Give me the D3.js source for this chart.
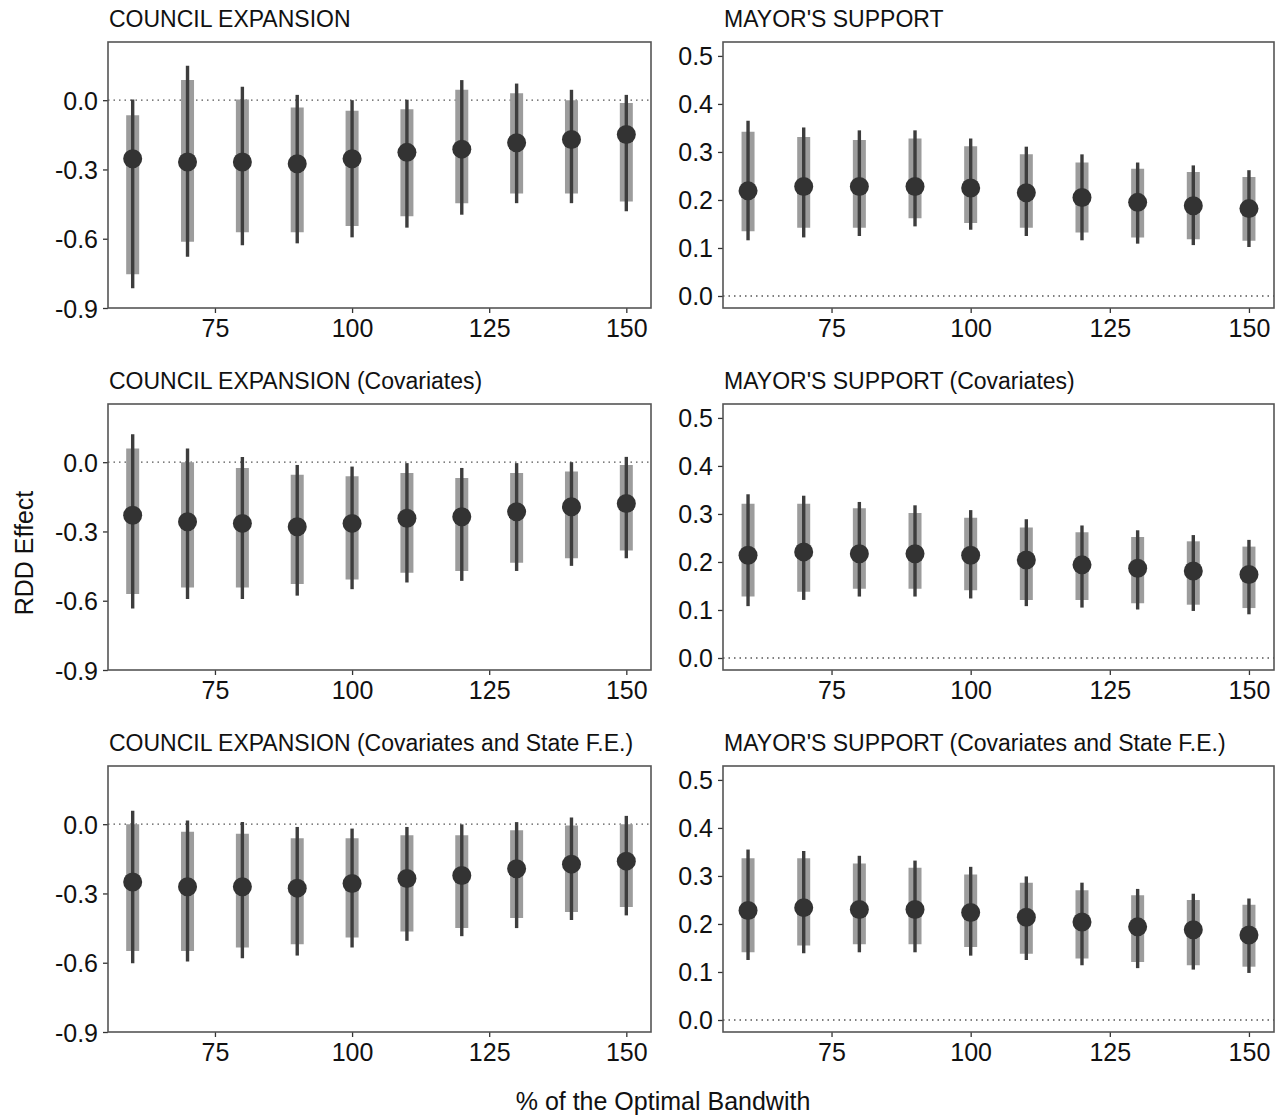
<!DOCTYPE html>
<html>
<head>
<meta charset="utf-8">
<script src="https://cdn.jsdelivr.net/npm/d3@7"></script>
<style>
  body { margin: 0; background: #fff; }
  svg text { font-family: "Liberation Sans", Arial, sans-serif; fill: #111; }
</style>
</head>
<body>
<div id="chart"></div>
<script>
// bandwidths (% of optimal)
var bandwidths = [60, 70, 80, 90, 100, 110, 120, 130, 140, 150];

var titles = [
  "COUNCIL EXPANSION", "MAYOR'S SUPPORT",
  "COUNCIL EXPANSION (Covariates)", "MAYOR'S SUPPORT (Covariates)",
  "COUNCIL EXPANSION (Covariates and State F.E.)", "MAYOR'S SUPPORT (Covariates and State F.E.)"
];

var councilTicks = [0.0, -0.3, -0.6, -0.9];
var mayorTicks = [0.0, 0.1, 0.2, 0.3, 0.4, 0.5];
var xTicks = [75, 100, 125, 150];

// council expansion
var council_est  = [-0.254, -0.268, -0.268, -0.275, -0.254, -0.226, -0.212, -0.184, -0.170, -0.149];
var council_lo95 = [-0.815, -0.678, -0.628, -0.620, -0.594, -0.552, -0.496, -0.446, -0.446, -0.481];
var council_hi95 = [0.003, 0.149, 0.058, 0.023, 0.000, 0.002, 0.087, 0.072, 0.045, 0.023];
var council_lo90 = [-0.754, -0.613, -0.572, -0.572, -0.545, -0.503, -0.446, -0.404, -0.404, -0.439];
var council_hi90 = [-0.065, 0.087, 0.003, -0.032, -0.046, -0.039, 0.045, 0.030, 0.000, -0.012];

// mayor's support
var mayor_est  = [0.219, 0.228, 0.228, 0.228, 0.225, 0.215, 0.205, 0.195, 0.188, 0.182];
var mayor_lo95 = [0.116, 0.122, 0.125, 0.145, 0.138, 0.125, 0.116, 0.109, 0.106, 0.102];
var mayor_hi95 = [0.365, 0.351, 0.345, 0.345, 0.328, 0.311, 0.295, 0.278, 0.272, 0.262];
var mayor_lo90 = [0.135, 0.142, 0.142, 0.162, 0.152, 0.142, 0.132, 0.122, 0.118, 0.115];
var mayor_hi90 = [0.342, 0.331, 0.325, 0.328, 0.312, 0.295, 0.278, 0.265, 0.258, 0.248];

// council expansion (covariates)
var councilCov_est  = [-0.230, -0.258, -0.265, -0.280, -0.265, -0.243, -0.236, -0.215, -0.193, -0.179];
var councilCov_lo95 = [-0.634, -0.593, -0.593, -0.578, -0.550, -0.521, -0.514, -0.471, -0.449, -0.416];
var councilCov_hi95 = [0.121, 0.059, 0.023, -0.012, -0.019, -0.004, -0.025, -0.004, 0.000, 0.023];
var councilCov_lo90 = [-0.571, -0.543, -0.543, -0.528, -0.508, -0.479, -0.471, -0.436, -0.416, -0.382];
var councilCov_hi90 = [0.059, 0.000, -0.025, -0.054, -0.061, -0.047, -0.069, -0.047, -0.040, -0.012];

// mayor's support (covariates)
var mayorCov_est  = [0.214, 0.221, 0.217, 0.217, 0.214, 0.204, 0.194, 0.187, 0.181, 0.174];
var mayorCov_lo95 = [0.108, 0.121, 0.128, 0.128, 0.124, 0.108, 0.105, 0.101, 0.098, 0.091];
var mayorCov_hi95 = [0.341, 0.338, 0.325, 0.318, 0.308, 0.289, 0.276, 0.266, 0.256, 0.246];
var mayorCov_lo90 = [0.128, 0.138, 0.144, 0.144, 0.141, 0.121, 0.121, 0.114, 0.111, 0.104];
var mayorCov_hi90 = [0.321, 0.321, 0.312, 0.302, 0.292, 0.272, 0.262, 0.252, 0.243, 0.232];

// council expansion (covariates and state F.E.)
var councilFE_est  = [-0.250, -0.271, -0.271, -0.277, -0.257, -0.235, -0.222, -0.193, -0.173, -0.160];
var councilFE_lo95 = [-0.602, -0.595, -0.581, -0.569, -0.534, -0.505, -0.485, -0.450, -0.415, -0.395];
var councilFE_hi95 = [0.058, 0.016, 0.009, -0.012, -0.019, -0.012, -0.001, 0.009, 0.029, 0.036];
var councilFE_lo90 = [-0.549, -0.549, -0.534, -0.520, -0.491, -0.465, -0.450, -0.406, -0.380, -0.359];
var councilFE_hi90 = [0.000, -0.033, -0.041, -0.061, -0.061, -0.048, -0.048, -0.026, -0.006, 0.000];

// mayor's support (covariates and state F.E.)
var mayorFE_est  = [0.228, 0.234, 0.230, 0.230, 0.224, 0.214, 0.204, 0.194, 0.188, 0.177];
var mayorFE_lo95 = [0.125, 0.139, 0.141, 0.141, 0.134, 0.125, 0.114, 0.108, 0.105, 0.098];
var mayorFE_hi95 = [0.355, 0.352, 0.342, 0.332, 0.319, 0.299, 0.286, 0.273, 0.263, 0.253];
var mayorFE_lo90 = [0.141, 0.155, 0.158, 0.158, 0.152, 0.138, 0.128, 0.121, 0.114, 0.111];
var mayorFE_hi90 = [0.337, 0.337, 0.326, 0.317, 0.303, 0.286, 0.270, 0.260, 0.250, 0.240];

var panels = [
  [council_est, council_lo95, council_hi95, council_lo90, council_hi90],
  [mayor_est, mayor_lo95, mayor_hi95, mayor_lo90, mayor_hi90],
  [councilCov_est, councilCov_lo95, councilCov_hi95, councilCov_lo90, councilCov_hi90],
  [mayorCov_est, mayorCov_lo95, mayorCov_hi95, mayorCov_lo90, mayorCov_hi90],
  [councilFE_est, councilFE_lo95, councilFE_hi95, councilFE_lo90, councilFE_hi90],
  [mayorFE_est, mayorFE_lo95, mayorFE_hi95, mayorFE_lo90, mayorFE_hi90]
];

var W = 1285, H = 1119;
var colX = [108, 723], colW = [543, 551];
var rowY = [42, 404, 766], rowH = 266;

// plain hyphen for negatives, like the original
var fmt1 = function (d) { return d3.format(".1f")(d).replace("\u2212", "-"); };

var svg = d3.select("#chart").append("svg")
    .attr("width", W)
    .attr("height", H);

panels.forEach(function (p, i) {
  var col = i % 2, row = Math.floor(i / 2);
  var isCouncil = col === 0;
  var w = colW[col], h = rowH;

  var x = d3.scaleLinear().domain([55.5, 154.5]).range([0, w]);
  var y = isCouncil
    ? d3.scaleLinear().domain([-0.9, 0.252]).range([h, 0])
    : d3.scaleLinear().domain([-0.025, 0.529]).range([h, 0]);

  var rows = bandwidths.map(function (b, k) {
    return {bw: b, est: p[0][k], lo95: p[1][k], hi95: p[2][k], lo90: p[3][k], hi90: p[4][k]};
  });

  var g = svg.append("g")
      .attr("transform", "translate(" + colX[col] + "," + rowY[row] + ")");

  g.append("text")
    .attr("x", 1)
    .attr("y", -15)
    .style("font-size", "23px")
    .text(titles[i]);

  // zero reference line
  g.append("line")
    .attr("x1", 0).attr("x2", w)
    .attr("y1", y(0)).attr("y2", y(0))
    .attr("stroke", "#555")
    .attr("stroke-width", 1.3)
    .attr("stroke-dasharray", "1.5,4");

  // 90% intervals (thick)
  g.selectAll(".ci90")
    .data(rows)
  .enter().append("line")
    .attr("class", "ci90")
    .attr("x1", function (d) { return x(d.bw); })
    .attr("x2", function (d) { return x(d.bw); })
    .attr("y1", function (d) { return y(d.lo90); })
    .attr("y2", function (d) { return y(d.hi90); })
    .attr("stroke", "#9c9c9c")
    .attr("stroke-width", 13);

  // 95% intervals (thin)
  g.selectAll(".ci95")
    .data(rows)
  .enter().append("line")
    .attr("class", "ci95")
    .attr("x1", function (d) { return x(d.bw); })
    .attr("x2", function (d) { return x(d.bw); })
    .attr("y1", function (d) { return y(d.lo95); })
    .attr("y2", function (d) { return y(d.hi95); })
    .attr("stroke", "#3d3d3d")
    .attr("stroke-width", 3.4);

  g.selectAll(".pt")
    .data(rows)
  .enter().append("circle")
    .attr("class", "pt")
    .attr("cx", function (d) { return x(d.bw); })
    .attr("cy", function (d) { return y(d.est); })
    .attr("r", 9.5)
    .attr("fill", "#333");

  // axes
  var yAxis = d3.axisLeft(y)
      .tickValues(isCouncil ? councilTicks : mayorTicks)
      .tickFormat(fmt1)
      .tickSize(5)
      .tickSizeOuter(0)
      .tickPadding(5);
  var xAxis = d3.axisBottom(x)
      .tickValues(xTicks)
      .tickSize(5)
      .tickSizeOuter(0)
      .tickPadding(5);

  var ya = g.append("g").call(yAxis);
  var xa = g.append("g").attr("transform", "translate(0," + h + ")").call(xAxis);
  [ya, xa].forEach(function (a) {
    a.select(".domain").remove();
    a.selectAll(".tick line").attr("stroke", "#333").attr("stroke-width", 1.3);
    a.selectAll(".tick text")
      .style("font-size", "25px")
      .style("font-family", "'Liberation Sans', Arial, sans-serif")
      .attr("fill", "#111");
  });
  ya.selectAll(".tick text").attr("dy", "0.36em");
  xa.selectAll(".tick text").attr("dy", "0.76em");

  g.append("rect")
    .attr("width", w)
    .attr("height", h)
    .attr("fill", "none")
    .attr("stroke", "#555")
    .attr("stroke-width", 1.6);
});

svg.append("text")
  .attr("x", 663)
  .attr("y", 1110)
  .attr("text-anchor", "middle")
  .style("font-size", "25px")
  .text("% of the Optimal Bandwith");

svg.append("text")
  .attr("transform", "translate(33,553) rotate(-90)")
  .attr("text-anchor", "middle")
  .style("font-size", "25px")
  .text("RDD Effect");
</script>
</body>
</html>
